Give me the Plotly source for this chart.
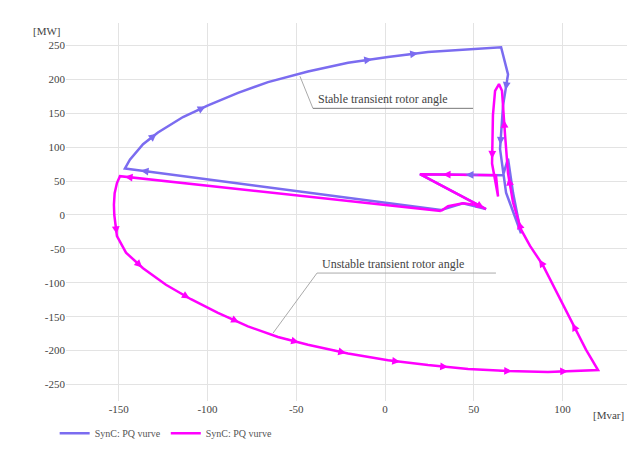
import math
import plotly.graph_objects as go

# Stable (blue) PQ trajectory: Q [Mvar], P [MW]
stable_q = [31.5, -146.5, -143.7, -136.3, -127.9, -113.8, -99.7, -82.8, -65.9, -43.4, -20.8, 1.7,
            24.2, 46.8, 65.4, 69.3, 66.5, 64.8, 68.2, 76.6, 72.1, 69.3, 66.5, 19.7, 56.9, 43.9, 31.5]
stable_p = [7.1, 68.6, 81.4, 104.3, 121.4, 144.3, 161.4, 180.0, 195.7, 211.4, 224.3, 232.9,
            240.0, 244.3, 247.1, 207.1, 161.4, 97.1, 32.9, -27.1, 32.9, 82.9, 58.6, 60.0, 8.6, 17.1, 7.1]

# Unstable (magenta) PQ trajectory
unstable_q = [31.5, -149.3, -151.0, -152.3, -152.7, -152.5, -151.0, -145.9, -136.3, -123.4, -109.3, -94.1, -77.2,
              -60.3, -43.4, -20.8, 1.7, 24.2, 46.8, 69.3, 91.8, 120.0, 113.2, 104.2, 96.3, 89.0,
              81.7, 76.6, 72.1, 69.3, 67.6, 66.5, 65.9, 64.2, 62.0, 60.8, 60.3, 63.7, 62.5, 19.7,
              56.9, 52.4, 43.9, 35.5, 31.5]
unstable_p = [5.7, 57.1, 47.0, 32.0, 15.0, 0.0, -31.4, -55.7, -78.6, -102.9, -124.3, -144.3, -164.3,
              -180.0, -191.4, -204.3, -214.3, -221.4, -227.1, -230.0, -231.4, -228.6, -198.6,
              -152.9, -112.9, -74.3, -45.7, -21.4, 18.6, 61.4, 118.6, 161.4, 182.9, 192.9, 182.9,
              147.1, 75.7, 27.1, 58.6, 60.0, 8.6, 14.3, 17.1, 12.9, 5.7]

# direction arrows: (segment index, fraction along segment)
stable_arrows = [(0, 0.95), (3, 0.9), (5, 0.9), (10, 0.6), (11, 0.75), (15, 0.5), (16, 0.9), (22, 0.45)]
unstable_arrows = [(0, 0.985), (5, 0.9), (7, 0.95), (9, 0.95), (11, 0.7), (13, 0.7), (14, 0.95),
                   (16, 0.3), (17, 0.5), (19, 0.1), (20, 0.4), (22, 0.85), (25, 0.3), (27, 0.3),
                   (28, 0.85), (30, 0.5), (35, 0.9), (38, 0.7), (39, 0.97)]

x_ticks = [-150, -100, -50, 0, 50, 100]
y_ticks = [-250, -200, -150, -100, -50, 0, 50, 100, 150, 200, 250]

BLUE = "#7b6cf0"
MAG = "#ff00ff"
FONT = "'Liberation Serif', serif"

X_RANGE = [-179.7, 139.7]
Y_RANGE = [-274.3, 282.9]
PLOT_W = 635 - 58 - 10
PLOT_H = 450 - 15 - 45
SX = PLOT_W / (X_RANGE[1] - X_RANGE[0])
SY = PLOT_H / (Y_RANGE[1] - Y_RANGE[0])

fig = go.Figure()
fig.add_trace(go.Scatter(x=stable_q, y=stable_p, mode="lines", name="SynC: PQ vurve",
                         line=dict(color=BLUE, width=2.5)))
fig.add_trace(go.Scatter(x=unstable_q, y=unstable_p, mode="lines", name="SynC: PQ vurve",
                         line=dict(color=MAG, width=2.5)))

annotations = []


def add_arrows(qs, ps, arrows, color):
    for i, f in arrows:
        q0, p0, q1, p1 = qs[i], ps[i], qs[i + 1], ps[i + 1]
        xh = q0 + f * (q1 - q0)
        yh = p0 + f * (p1 - p0)
        dx = (q1 - q0) * SX
        dy = -(p1 - p0) * SY
        n = math.hypot(dx, dy) or 1.0
        annotations.append(dict(x=xh, y=yh, xref="x", yref="y",
                                ax=-dx / n * 14, ay=-dy / n * 14,
                                showarrow=True, arrowhead=2, arrowsize=1.2, arrowwidth=1.3,
                                arrowcolor=color, text="", standoff=0))


add_arrows(stable_q, stable_p, stable_arrows, BLUE)
add_arrows(unstable_q, unstable_p, unstable_arrows, MAG)

annotations += [
    dict(x=-39, y=157.1, xref="x", yref="y", text="Stable transient rotor angle", showarrow=False,
         xanchor="left", yanchor="bottom", font=dict(family=FONT, size=12, color="#444")),
    dict(x=-36.5, y=-85.7, xref="x", yref="y", text="Unstable transient rotor angle", showarrow=False,
         xanchor="left", yanchor="bottom", font=dict(family=FONT, size=12, color="#444")),
    dict(x=-0.005, y=1.0, xref="paper", yref="paper", text="[MW]", showarrow=False,
         xanchor="right", yanchor="top", font=dict(family=FONT, size=11, color="#444")),
    dict(x=0.957, y=-0.015, xref="paper", yref="paper", text="[Mvar]", showarrow=False,
         xanchor="center", yanchor="top", font=dict(family=FONT, size=11, color="#444")),
]

shapes = [
    dict(type="line", xref="x", yref="y", x0=-47.9, y0=204.3, x1=-40.6, y1=157.1,
         line=dict(color="#aaa", width=1)),
    dict(type="line", xref="x", yref="y", x0=-40.6, y0=157.1, x1=49.6, y1=157.1,
         line=dict(color="#777", width=1)),
    dict(type="line", xref="x", yref="y", x0=-63.1, y0=-174.3, x1=-38.3, y1=-85.7,
         line=dict(color="#aaa", width=1)),
    dict(type="line", xref="x", yref="y", x0=-38.3, y0=-85.7, x1=62.5, y1=-85.7,
         line=dict(color="#aaa", width=1)),
]

fig.update_layout(
    width=635, height=450,
    margin=dict(l=58, r=10, t=15, b=45),
    paper_bgcolor="white", plot_bgcolor="white",
    font=dict(family=FONT, size=11, color="#444"),
    showlegend=True,
    legend=dict(orientation="h", x=-0.02, y=-0.085, xanchor="left", yanchor="middle",
                font=dict(family=FONT, size=10, color="#555"), itemwidth=30,
                bgcolor="rgba(0,0,0,0)"),
    annotations=annotations,
    shapes=shapes,
)
fig.update_xaxes(range=X_RANGE, tickvals=x_ticks, ticktext=[str(v) for v in x_ticks],
                 showgrid=True, gridcolor="#e3e3e3", gridwidth=1, zeroline=False,
                 showline=False, ticks="", tickfont=dict(family=FONT, size=11, color="#444"))
fig.update_yaxes(range=Y_RANGE, tickvals=y_ticks, ticktext=[str(v) for v in y_ticks],
                 showgrid=True, gridcolor="#e3e3e3", gridwidth=1, zeroline=False,
                 showline=False, ticks="", tickfont=dict(family=FONT, size=11, color="#444"))

fig.write_html("out.html")
